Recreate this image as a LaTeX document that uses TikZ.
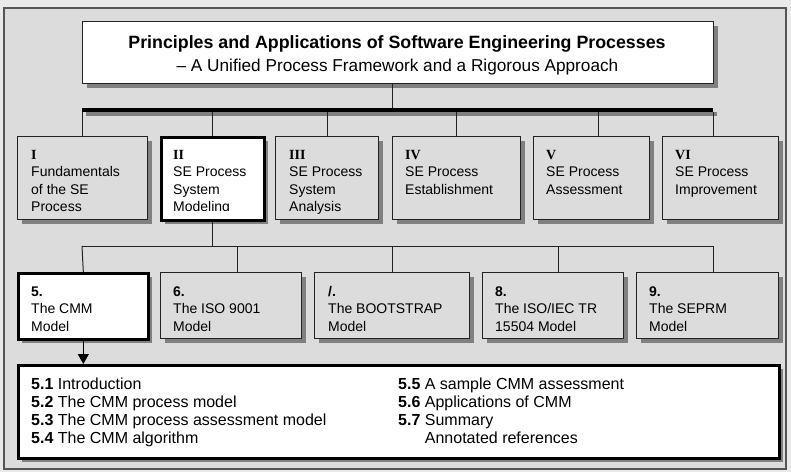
\documentclass[tikz,border=0pt]{standalone}
\usepackage{fontspec}
\setmainfont{Liberation Sans}
\newfontfamily\numfont{Liberation Serif}
\usetikzlibrary{arrows.meta,shadows}
\definecolor{bgout}{HTML}{E9E9E9}
\definecolor{bgin}{HTML}{DCDCDC}
\definecolor{framec}{HTML}{555555}
\definecolor{shade}{HTML}{808080}
\definecolor{edge}{HTML}{222222}
\newcommand{\rn}[1]{{\numfont\bfseries #1}}
\tikzset{
  shad/.style={drop shadow={shadow xshift=4pt,shadow yshift=-4pt,opacity=1,fill=shade}},
  box/.style={draw=edge,line width=1pt,fill=bgin,shad,anchor=north west,inner sep=0pt},
  hbox/.style={draw=black,line width=2.6pt,fill=white,shad,anchor=north west,inner sep=0pt},
  txt/.style={anchor=base west,align=left,inner sep=0pt,font=\fontsize{14}{17.6}\selectfont},
  ltxt/.style={anchor=base west,align=left,inner sep=0pt,font=\fontsize{16}{18}\selectfont},
  conn/.style={draw=edge,line width=1pt},
}
\begin{document}
\begin{tikzpicture}[x=1pt,y=-1pt]
\useasboundingbox (0,0) rectangle (791,472);
\fill[bgout] (0,0) rectangle (791,472);
\draw[framec,line width=2pt,fill=bgin] (4,8) rectangle (786,469);

% title
\node[box,fill=white,minimum width=631,minimum height=62] (title) at (82,21) {};
\node[anchor=base,inner sep=0pt,font=\fontsize{17.8}{18}\selectfont\bfseries] (t0a) at (397,48) {Principles and Applications of Software Engineering Processes};
\node[anchor=base,inner sep=0pt,font=\fontsize{17.2}{18}\selectfont] (t0b) at (397.5,71) {-- A Unified Process Framework and a Rigorous Approach};

% bar
\node[fill=black,shad,anchor=north west,inner sep=0pt,minimum width=631,minimum height=4] (bar) at (82,108) {};

% row 1
\node[box,minimum width=130,minimum height=83] (b1) at (17,136) {};
\node[hbox,minimum width=103,minimum height=83] (b2) at (160,136) {};
\node[box,minimum width=103,minimum height=83] (b3) at (275,136) {};
\node[box,minimum width=128,minimum height=83] (b4) at (392,136) {};
\node[box,minimum width=116,minimum height=83] (b5) at (533,136) {};
\node[box,minimum width=116,minimum height=83] (b6) at (662,136) {};

\node[txt] (t1) at (31,211.8) {\rn{I}\\Fundamentals\\of the SE\\Process};
\begin{scope}
\clip (160,136) rectangle (263,210.5);
\node[txt] (t2) at (173,211.8) {\rn{II}\\SE Process\\System\\Modeling};
\end{scope}
\node[txt] (t3) at (289,211.8) {\rn{III}\\SE Process\\System\\Analysis};
\node[txt] (t4) at (405,194.2) {\rn{IV}\\SE Process\\Establishment};
\node[txt] (t5) at (546,194.2) {\rn{V}\\SE Process\\Assessment};
\node[txt] (t6) at (675,194.2) {\rn{VI}\\SE Process\\Improvement};

% row 1 connectors
\draw[conn] (title.south -| b4.west) -- (bar.north -| b4.west);
\draw[conn] (bar.south -| b1.north) -- (b1.north);
\draw[conn] (bar.south -| b2.north) -- (b2.north);
\draw[conn] (bar.south -| b3.north) -- (b3.north);
\draw[conn] (bar.south -| b4.north) -- (b4.north);
\draw[conn] (bar.south -| 598,0) -- (b5.north -| 598,0);
\draw[conn] (bar.south -| bar.east) -- (b6.north -| bar.east);

% row 2
\node[hbox,minimum width=130,minimum height=66] (c5) at (17,272) {};
\node[box,minimum width=141,minimum height=66] (c6) at (160,272) {};
\node[box,minimum width=155,minimum height=66] (c7) at (314,272) {};
\node[box,minimum width=141,minimum height=66] (c8) at (482,272) {};
\node[box,minimum width=142,minimum height=66] (c9) at (636,272) {};

\node[txt] (s5) at (31,331.2) {\textbf{5.}\\The CMM\\Model};
\node[txt] (s6) at (173,331.2) {\textbf{6.}\\The ISO 9001\\Model};
\node[txt] (s7) at (328,331.2) {\textbf{/.}\\The BOOTSTRAP\\Model};
\node[txt] (s8) at (495,331.2) {\textbf{8.}\\The ISO/IEC TR\\15504 Model};
\node[txt] (s9) at (649,331.2) {\textbf{9.}\\The SEPRM\\Model};

\coordinate (h1) at (82,246);
\coordinate (h2) at (713,246);
\draw[conn] (b2.south) -- (b2.south |- h1);
\draw[conn] (h1) -- (h2);
\draw[conn] (h1) -- (c5.north);
\draw[conn] (h1 -| 237,0) -- (c6.north -| 237,0);
\draw[conn] (h1 -| c7.north) -- (c7.north);
\draw[conn] (h1 -| 558,0) -- (c8.north -| 558,0);
\draw[conn] (h2) -- (c9.north -| h2);

% list
\node[hbox,minimum width=761,minimum height=93] (list) at (17,364) {};
\draw[line width=1pt,-{Triangle[length=10pt,width=11pt]}] (c5.south) -- (list.north -| c5.south);
\node[ltxt] (l1) at (31,443) {\textbf{5.1} Introduction\\\textbf{5.2} The CMM process model\\\textbf{5.3} The CMM process assessment model\\\textbf{5.4} The CMM algorithm};
\node[ltxt] (l2) at (398,443) {\textbf{5.5} A sample CMM assessment\\\textbf{5.6} Applications of CMM\\\textbf{5.7} Summary\\\phantom{\textbf{5.7} }Annotated references};
\end{tikzpicture}
\end{document}
